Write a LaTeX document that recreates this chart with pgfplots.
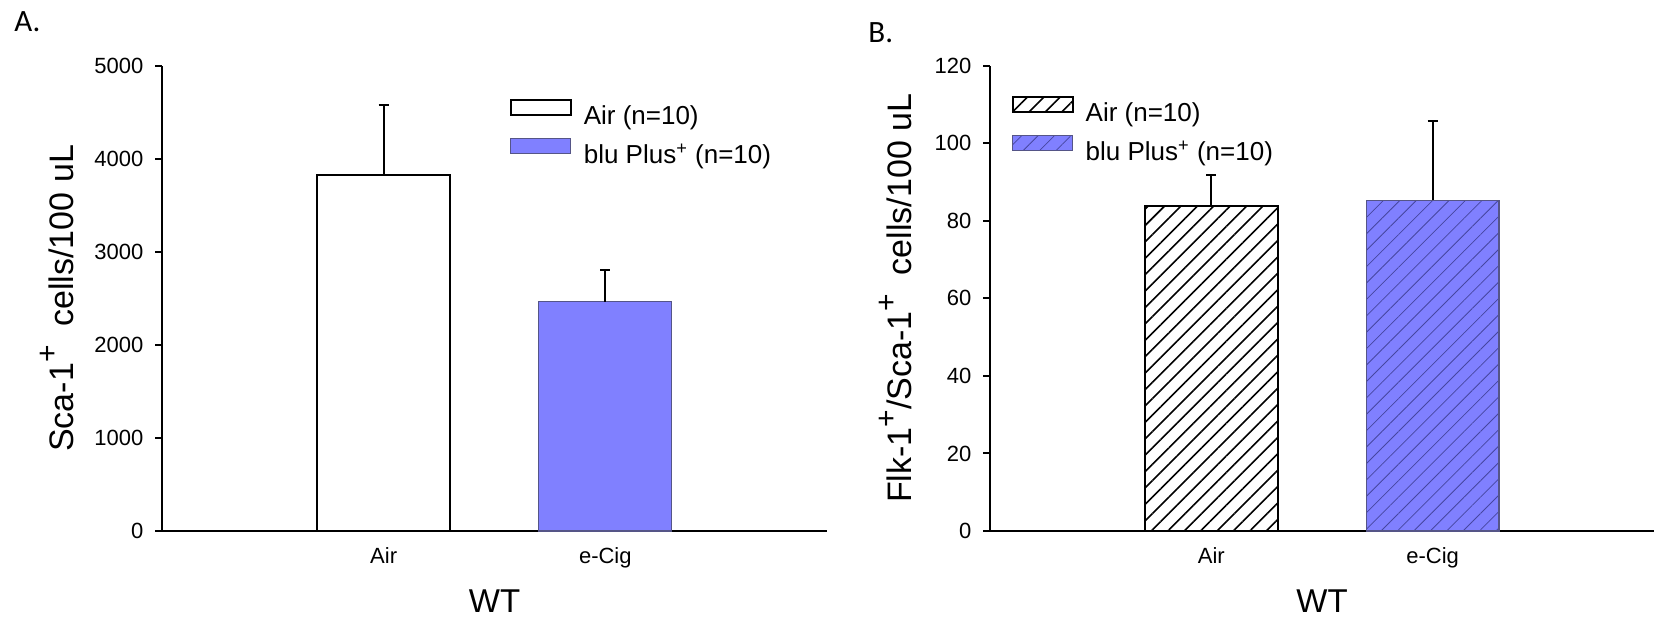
\documentclass[border=0pt]{standalone}
\usepackage{pgfplots}
\pgfplotsset{compat=1.18}
\usepackage{fontspec}
\setmainfont{Liberation Sans}
\newfontfamily\calibri{Carlito}
\usetikzlibrary{patterns.meta}
\definecolor{bluplus}{RGB}{128,128,255}
\definecolor{bluedge}{RGB}{85,85,135}
\definecolor{bluhatch}{RGB}{70,70,160}
\newcommand\lsup{\raisebox{0.45em}{\fontsize{15}{15}\selectfont+}}

\pgfplotsset{
  panel/.style={
    scale only axis, height=232.65pt,
    xmin=0, xmax=3, ymin=0,
    axis x line*=bottom, axis y line*=left,
    axis line style={line width=1pt, -},
    ybar, bar shift=0pt, bar width=0.6,
    xtick={1,2}, xticklabels={Air,e-Cig},
    xtick style={draw=none},
    tick align=outside, major tick length=3.5pt,
    ytick style={line width=1pt, black},
    tick label style={font=\fontsize{11}{13}\selectfont},
    /pgf/number format/assume math mode=true,
    /pgf/number format/1000 sep={},
    yticklabel style={xshift=-2.3pt},
    xticklabel style={anchor=base, yshift=-12.5pt},
    xlabel={WT},
    xlabel style={at={(axis description cs:0.5,0)}, anchor=base, yshift=-40.5pt, font=\fontsize{16.5}{18}\selectfont},
    legend style={anchor=north west, draw=none, fill=none, inner sep=0pt, outer sep=0pt,
      row sep=5pt, column sep=6pt, font=\fontsize{13}{15}\selectfont, nodes={inner sep=0pt}},
    legend cell align=left,
    error bars/y dir=plus, error bars/y explicit,
    error bars/error bar style={line width=1pt, black},
    error bars/error mark options={rotate=90, mark size=2.5pt, line width=1pt, black},
  },
  boxlegend/.style={legend image code/.code={\draw[##1] (0pt,0.8pt) rectangle (30pt,8.4pt);}},
}

\begin{document}
\begin{tikzpicture}[x=0.5pt,y=0.5pt]
\useasboundingbox (0,0) rectangle (1654,616);

\node[anchor=base west, inner sep=0pt, font=\calibri\fontsize{15.5}{16}\selectfont] at (14,584) {A.};
\node[anchor=base west, inner sep=0pt, font=\calibri\fontsize{15.5}{16}\selectfont] at (868,573) {B.};

% Panel A
\begin{axis}[panel, at={(81pt,42.5pt)}, anchor=south west, width=332.5pt,
  ymax=5000, ytick={0,1000,...,5000},
  ylabel={Sca-1\lsup\ \ cells/100 uL},
  ylabel style={at={(axis description cs:-0.1338,0.5)}, anchor=base, font=\fontsize{17}{19}\selectfont},
  legend style={at={(rel axis cs:0.523,0.928)}},
]
\addplot[boxlegend, fill=white, draw=black, line width=1pt]
  coordinates {(1,3822) +- (0,756)};
\addlegendentry{Air (n=10)}
\addplot[boxlegend, fill=bluplus, draw=bluedge, line width=0.6pt]
  coordinates {(2,2462) +- (0,342)};
\addlegendentry{blu Plus\textsuperscript{+} (n=10)}
\end{axis}

% Panel B
\begin{axis}[panel, at={(495pt,42.5pt)}, anchor=south west, width=332pt,
  ymax=120, ytick={0,20,...,120},
  ylabel={Flk-1\lsup/Sca-1\lsup\ \ cells/100 uL},
  ylabel style={at={(axis description cs:-0.1175,0.5)}, anchor=base, font=\fontsize{17}{19}\selectfont},
  legend style={at={(rel axis cs:0.0327,0.935)}},
]
\addplot[boxlegend, fill=white, draw=black, line width=1pt,
  postaction={pattern={Lines[angle=45,distance=5.8pt,line width=0.8pt]}, pattern color=black}]
  coordinates {(1,83.9) +- (0,8.0)};
\addlegendentry{Air (n=10)}
\addplot[boxlegend, fill=bluplus, draw=bluedge, line width=0.6pt,
  postaction={pattern={Lines[angle=45,distance=5.8pt,line width=0.4pt]}, pattern color=bluhatch}]
  coordinates {(2,85.3) +- (0,20.4)};
\addlegendentry{blu Plus\textsuperscript{+} (n=10)}
\end{axis}
\end{tikzpicture}
\end{document}
